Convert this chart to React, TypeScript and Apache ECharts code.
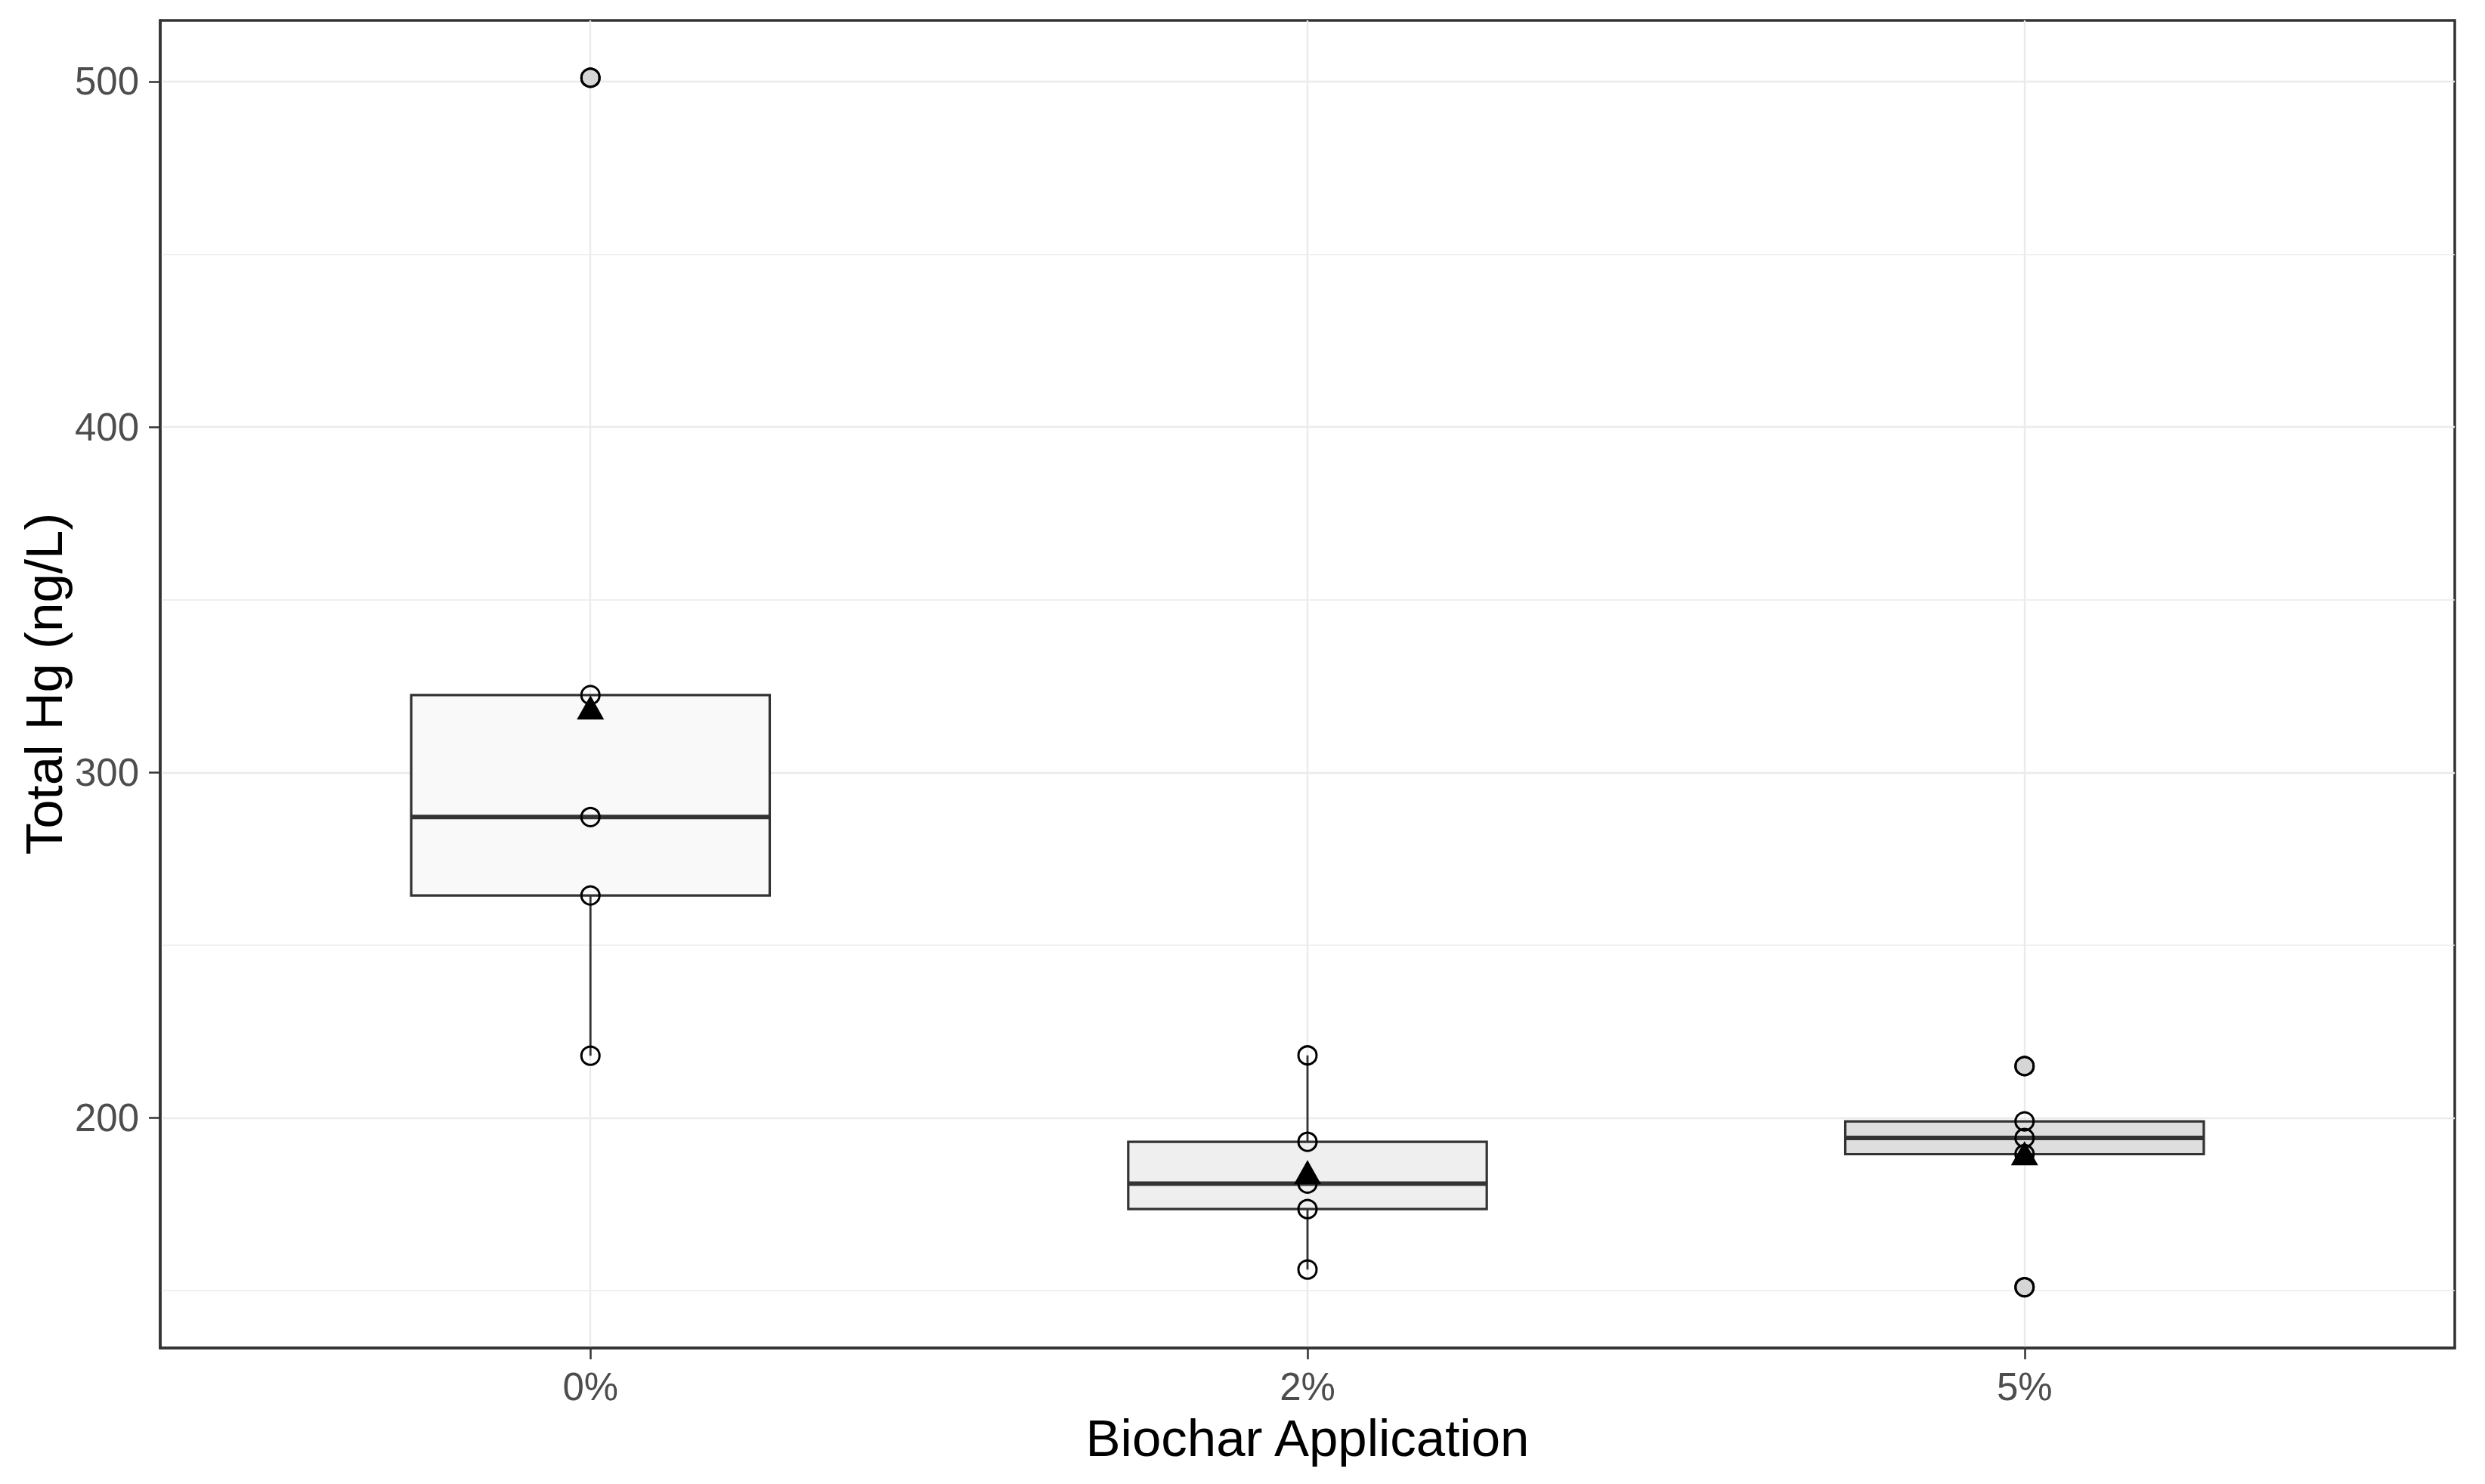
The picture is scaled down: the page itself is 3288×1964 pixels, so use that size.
import React, { useEffect, useRef } from 'react';
import * as echarts from 'echarts';

// ---- data ----
const categories = ['0%', '2%', '5%'];
const xPositions = [0, 1, 2];
const yTicks = [200, 300, 400, 500];
const yMinorGrid = [150, 250, 350, 450];
const yMin = 133.4;
const yMax = 517.7;

// box statistics per category
const whiskerLow = [218.0, 156.1, 189.5];
const q1 = [264.4, 173.6, 189.5];
const median = [287.1, 181.0, 194.2];
const q3 = [322.4, 193.1, 199.0];
const whiskerHigh = [322.4, 218.1, 199.0];

// individual observations per category
const points0 = [501.1, 322.4, 287.1, 264.4, 218.0];
const points2 = [218.1, 193.1, 181.0, 173.6, 156.1];
const points5 = [215.0, 199.0, 194.2, 189.5, 151.0];

// outliers per category
const outliers0 = [501.1];
const outliers2: number[] = [];
const outliers5 = [215.0, 151.0];

// means per category
const means = [318.8, 184.3, 189.8];

// ---- styles ----
const boxFills = ['#f9f9f9', '#efefef', '#dedede'];
const FONT = "'Liberation Sans', Arial, Helvetica, sans-serif";
const DARK = '#333333';
const GRID = '#ebebeb';
const BOX_WIDTH = 0.5;

export default function App() {
  const ref = useRef<HTMLDivElement>(null);

  useEffect(() => {
    document.body.style.margin = '0';
    if (!ref.current) return;
    const chart = echarts.init(ref.current, null, { renderer: 'svg' });

    const pointGroups = [points0, points2, points5];
    const outlierGroups = [outliers0, outliers2, outliers5];
    const pointData: number[][] = [];
    pointGroups.forEach((g, i) => g.forEach((v) => pointData.push([xPositions[i], v])));
    const outlierData: number[][] = [];
    outlierGroups.forEach((g, i) => g.forEach((v) => outlierData.push([xPositions[i], v])));
    const meanData = means.map((m, i) => [xPositions[i], m]);
    const boxData = categories.map((_, i) => [
      xPositions[i], whiskerLow[i], q1[i], median[i], q3[i], whiskerHigh[i],
    ]);

    const gridLines: any[] = [];
    yMinorGrid.forEach((v) => gridLines.push({ yAxis: v, lineStyle: { color: GRID, width: 1.6, type: 'solid' } }));
    yTicks.forEach((v) => gridLines.push({ yAxis: v, lineStyle: { color: GRID, width: 2.4, type: 'solid' } }));
    xPositions.forEach((v) => gridLines.push({ xAxis: v, lineStyle: { color: GRID, width: 2.4, type: 'solid' } }));

    const option: any = {
      animation: false,
      backgroundColor: '#ffffff',
      grid: {
        left: 212,
        right: 40,
        top: 27,
        bottom: 180,
        show: true,
        borderColor: DARK,
        borderWidth: 3.5,
        backgroundColor: 'transparent',
        containLabel: false,
      },
      xAxis: {
        type: 'value',
        min: -0.6,
        max: 2.6,
        axisLine: { show: true, onZero: false, lineStyle: { color: DARK, width: 3.5 } },
        axisTick: {
          show: true,
          customValues: xPositions,
          length: 15,
          lineStyle: { color: DARK, width: 2.5 },
        },
        axisLabel: {
          customValues: xPositions,
          formatter: (v: number) => categories[Math.round(v)] ?? '',
          color: '#4d4d4d',
          fontSize: 51,
          fontFamily: FONT,
          margin: 26,
        },
        splitLine: { show: false },
      },
      yAxis: {
        type: 'value',
        min: yMin,
        max: yMax,
        axisLine: { show: true, onZero: false, lineStyle: { color: DARK, width: 3.5 } },
        axisTick: {
          show: true,
          customValues: yTicks,
          length: 15,
          lineStyle: { color: DARK, width: 2.5 },
        },
        axisLabel: {
          customValues: yTicks,
          color: '#4d4d4d',
          fontSize: 51,
          fontFamily: FONT,
          margin: 28,
        },
        splitLine: { show: false },
      },
      graphic: [
        {
          type: 'text',
          x: 1730,
          y: 1903,
          style: {
            text: 'Biochar Application',
            fill: '#000000',
            font: `69px ${FONT}`,
            textAlign: 'center',
            textVerticalAlign: 'middle',
          },
        },
        {
          type: 'text',
          x: 58,
          y: 905,
          rotation: Math.PI / 2,
          style: {
            text: 'Total Hg (ng/L)',
            fill: '#000000',
            font: `69px ${FONT}`,
            textAlign: 'center',
            textVerticalAlign: 'middle',
          },
        },
      ],
      series: [
        {
          type: 'line',
          data: [],
          z: 0,
          silent: true,
          markLine: {
            silent: true,
            z: 0,
            symbol: 'none',
            label: { show: false },
            animation: false,
            data: gridLines,
          },
        },
        {
          type: 'custom',
          z: 10,
          data: boxData,
          encode: { x: 0, y: [1, 2, 3, 4, 5] },
          renderItem: (params: any, api: any) => {
            const x = api.value(0);
            const lo = api.coord([x, api.value(1)]);
            const b1 = api.coord([x, api.value(2)]);
            const md = api.coord([x, api.value(3)]);
            const b3 = api.coord([x, api.value(4)]);
            const hi = api.coord([x, api.value(5)]);
            const half = api.size([BOX_WIDTH, 0])[0] / 2;
            const idx = params.dataIndex;
            return {
              type: 'group',
              children: [
                {
                  type: 'line',
                  shape: { x1: lo[0], y1: lo[1], x2: b1[0], y2: b1[1] },
                  style: { stroke: DARK, lineWidth: 2.8 },
                },
                {
                  type: 'line',
                  shape: { x1: b3[0], y1: b3[1], x2: hi[0], y2: hi[1] },
                  style: { stroke: DARK, lineWidth: 2.8 },
                },
                {
                  type: 'rect',
                  shape: { x: b1[0] - half, y: b3[1], width: half * 2, height: b1[1] - b3[1] },
                  style: { fill: boxFills[idx], stroke: DARK, lineWidth: 3.2 },
                },
                {
                  type: 'line',
                  shape: { x1: md[0] - half, y1: md[1], x2: md[0] + half, y2: md[1] },
                  style: { stroke: DARK, lineWidth: 6 },
                },
              ],
            };
          },
        },
        {
          type: 'scatter',
          z: 11,
          data: outlierData,
          symbol: 'circle',
          symbolSize: 24,
          itemStyle: { color: '#d6d6d6', borderColor: '#000000', borderWidth: 3, opacity: 1 },
          silent: true,
        },
        {
          type: 'scatter',
          z: 12,
          data: pointData,
          symbol: 'circle',
          symbolSize: 24,
          itemStyle: { color: 'rgba(0,0,0,0)', borderColor: '#000000', borderWidth: 3, opacity: 1 },
          silent: true,
        },
        {
          type: 'scatter',
          z: 13,
          data: meanData,
          symbol: 'triangle',
          symbolSize: [36, 32],
          itemStyle: { color: '#000000', borderWidth: 0, opacity: 1 },
          silent: true,
        },
      ],
    };

    chart.setOption(option);
    return () => chart.dispose();
  }, []);

  return <div ref={ref} style={{ width: '3288px', height: '1964px' }} />;
}
